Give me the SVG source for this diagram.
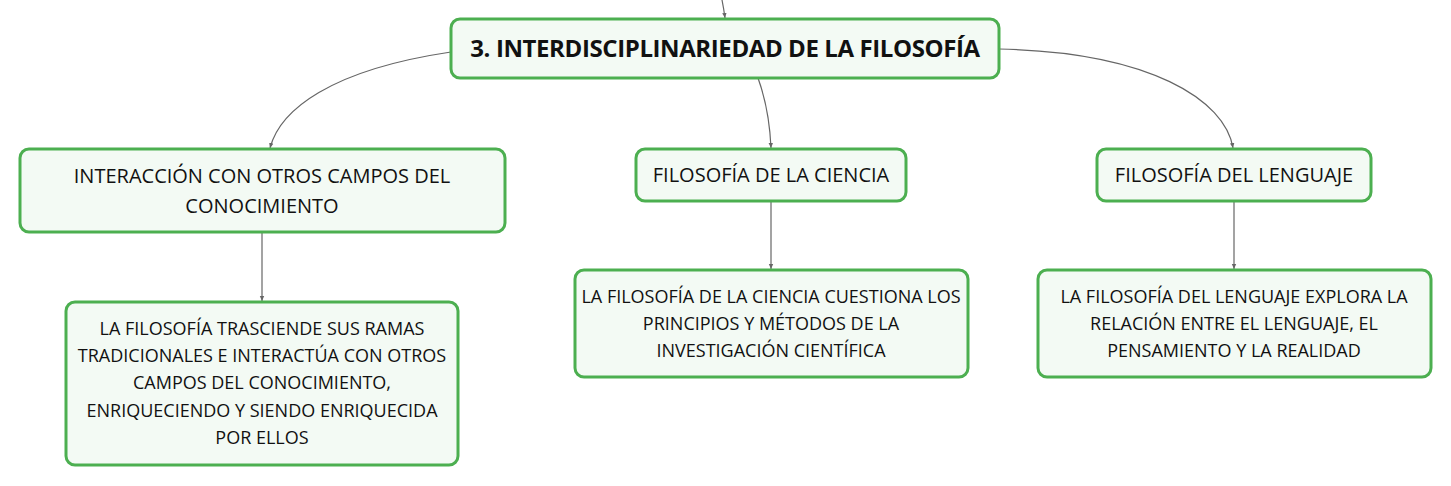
<svg xmlns="http://www.w3.org/2000/svg" width="1451" height="486" viewBox="0 0 1451 486">
<style>
.box{fill:#f3faf4;stroke:#4caf50;stroke-width:3}
.t{font-family:"Open Sans","Noto Sans",sans-serif;font-size:18px;fill:#111;text-anchor:middle}
.s{font-family:"Open Sans","Noto Sans",sans-serif;font-size:20px;fill:#111;text-anchor:middle}
.h{font-family:"Open Sans","Noto Sans",sans-serif;font-size:24px;font-weight:bold;letter-spacing:-0.4px;fill:#111;text-anchor:middle}
.c{fill:none;stroke:#666;stroke-width:1.2;marker-end:url(#a)}
</style>
<defs>
<marker id="a" markerWidth="6" markerHeight="6" refX="5" refY="3" orient="auto" markerUnits="userSpaceOnUse">
<path d="M0,0.8 L5,3 L0,5.2 Z" fill="#666"/>
</marker>
</defs>
<rect width="1451" height="486" fill="#fff"/>
<g id="connectors">
<path class="c" d="M722,0 Q724,10 725,18"/>
<path class="c" d="M451,52 C330,70 280,110 270,148"/>
<path class="c" d="M758,78 C766,100 770,125 771,148"/>
<path class="c" d="M999,49 C1150,52 1225,100 1233,148"/>
<path class="c" d="M262,232 L262,301"/>
<path class="c" d="M771,201 L771,269"/>
<path class="c" d="M1234,201 L1234,269"/>
</g>
<g id="root">
<rect class="box" x="451" y="19" width="548" height="59" rx="9"/>
<text class="h" x="725" y="57">3. INTERDISCIPLINARIEDAD DE LA FILOSOFÍA</text>
</g>
<g id="interaccion">
<rect class="box" x="20" y="149" width="485" height="83" rx="9"/>
<text class="s" x="262" y="183">INTERACCIÓN CON OTROS CAMPOS DEL</text>
<text class="s" x="262" y="213">CONOCIMIENTO</text>
</g>
<g id="ciencia">
<rect class="box" x="636" y="149" width="270" height="52" rx="9"/>
<text class="s" x="771" y="182">FILOSOFÍA DE LA CIENCIA</text>
</g>
<g id="lenguaje">
<rect class="box" x="1097" y="149" width="274" height="52" rx="9"/>
<text class="s" x="1234" y="182">FILOSOFÍA DEL LENGUAJE</text>
</g>
<g id="leaf-interaccion">
<rect class="box" x="66" y="302" width="392" height="163" rx="9"/>
<text class="t" x="262" y="335">LA FILOSOFÍA TRASCIENDE SUS RAMAS</text>
<text class="t" x="262" y="362">TRADICIONALES E INTERACTÚA CON OTROS</text>
<text class="t" x="262" y="389">CAMPOS DEL CONOCIMIENTO,</text>
<text class="t" x="262" y="417">ENRIQUECIENDO Y SIENDO ENRIQUECIDA</text>
<text class="t" x="262" y="444">POR ELLOS</text>
</g>
<g id="leaf-ciencia">
<rect class="box" x="575" y="270" width="393" height="107" rx="9"/>
<text class="t" x="771" y="303">LA FILOSOFÍA DE LA CIENCIA CUESTIONA LOS</text>
<text class="t" x="771" y="330">PRINCIPIOS Y MÉTODOS DE LA</text>
<text class="t" x="771" y="357">INVESTIGACIÓN CIENTÍFICA</text>
</g>
<g id="leaf-lenguaje">
<rect class="box" x="1038" y="270" width="393" height="107" rx="9"/>
<text class="t" x="1234" y="303">LA FILOSOFÍA DEL LENGUAJE EXPLORA LA</text>
<text class="t" x="1234" y="330">RELACIÓN ENTRE EL LENGUAJE, EL</text>
<text class="t" x="1234" y="357">PENSAMIENTO Y LA REALIDAD</text>
</g>
</svg>
